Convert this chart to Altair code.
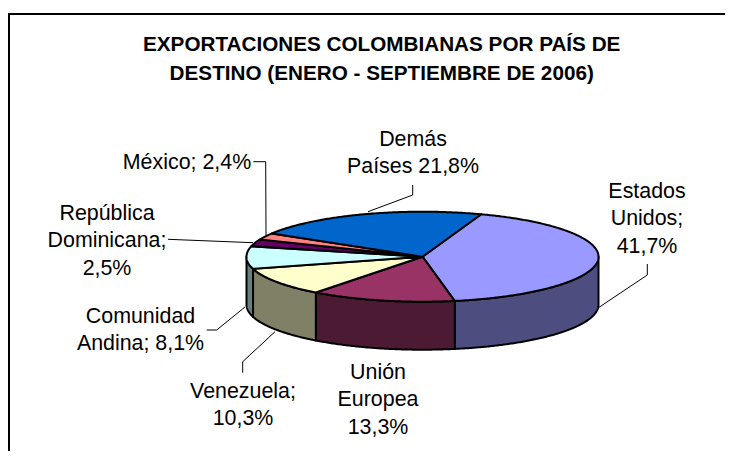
import math
import altair as alt

# --- data
paises = ["Estados Unidos", "Unión Europea", "Venezuela", "Comunidad Andina",
          "República Dominicana", "México", "Demás Países"]
porcentajes = [41.7, 13.3, 10.3, 8.1, 2.5, 2.4, 21.8]
etiquetas = ["Estados\nUnidos;\n41,7%", "Unión\nEuropea\n13,3%", "Venezuela;\n10,3%",
             "Comunidad\nAndina; 8,1%", "República\nDominicana;\n2,5%", "México; 2,4%",
             "Demás\nPaíses 21,8%"]
colores_tapa = ["#9999FF", "#993366", "#FFFFCC", "#CCFFFF", "#660066", "#FF8080", "#0066CC"]
colores_lado = ["#4D4D80", "#4D1A33", "#808066", "#668080", "#330033", "#804040", "#003366"]
titulo = ["EXPORTACIONES COLOMBIANAS POR PAÍS DE", "DESTINO (ENERO - SEPTIEMBRE DE 2006)"]

# --- layout (page pixels minus the 8px margin)
M = 8
CX, CY, A, B, H = 422.5 - M, 256.7 - M, 176, 45, 48
INICIO = 19.5
LAB_X = [647, 378, 243, 140.5, 107, 187, 413]
LAB_Y = [198, 379, 397.5, 322.7, 220, 169.3, 146]
LIDERES = [
    [(647.3, 264), (647.3, 275), (598, 308)],
    [(242.7, 372.7), (242.7, 361.7), (275, 331.7)],
    [(206.7, 330), (216.7, 330), (245, 307)],
    [(168, 239.3), (253, 242.7)],
    [(253.3, 161.7), (265.7, 161.7), (266, 235)],
    [(412.7, 185), (412.7, 195), (368, 211.7)],
]
W, HT = 717, 443


def punto(ang, dy=0.0):
    r = math.radians(ang)
    return [CX + A * math.sin(r), CY - B * math.cos(r) + dy]


total = sum(porcentajes)
tapas, lados = [], []
ini = INICIO
for pais, p in zip(paises, porcentajes):
    fin = ini + p / total * 360
    n = max(2, int(fin - ini) * 2)
    arco = [ini + (fin - ini) * i / n for i in range(n + 1)]
    anillo = [[CX, CY]] + [punto(t) for t in arco] + [[CX, CY]]
    tapas.append({"type": "Feature", "properties": {"pais": pais},
                  "geometry": {"type": "Polygon", "coordinates": [anillo]}})
    # visible wall: the part of the arc on the front half (90..270 deg from the top)
    a0, a1 = max(ini, 90), min(fin, 270)
    if a1 > a0:
        m = max(2, int(a1 - a0) * 2)
        frente = [a0 + (a1 - a0) * i / m for i in range(m + 1)]
        muro = [punto(t) for t in frente] + [punto(t, H) for t in reversed(frente)]
        muro.append(muro[0])
        lados.append({"type": "Feature", "properties": {"pais": pais},
                      "geometry": {"type": "Polygon", "coordinates": [muro]}})
    ini = fin

lineas = [{"type": "Feature", "properties": {},
           "geometry": {"type": "LineString",
                        "coordinates": [[x - M, y - M] for x, y in l]}} for l in LIDERES]

PROY = dict(type="identity", scale=1, translate=[0, 0])


def capa(features, dominio, rango):
    return alt.Chart(alt.Data(values=features)).mark_geoshape(
        stroke="black", strokeWidth=2, strokeJoin="round"
    ).encode(
        color=alt.Color("properties.pais:N", legend=None,
                        scale=alt.Scale(domain=dominio, range=rango))
    ).project(**PROY)


muros = capa(lados, paises, colores_lado)
tapa = capa(tapas, paises, colores_tapa)
lider = alt.Chart(alt.Data(values=lineas)).mark_geoshape(
    filled=False, stroke="black", strokeWidth=1
).project(**PROY)

marco_h = alt.Chart(alt.Data(values=[{}])).mark_rule(color="black", strokeWidth=2).encode(
    x=alt.value(0), x2=alt.value(W), y=alt.value(14 - M))
marco_v = alt.Chart(alt.Data(values=[{}])).mark_rule(color="black", strokeWidth=2).encode(
    x=alt.value(9 - M), y=alt.value(13 - M), y2=alt.value(HT))

filas = [{"t": t, "x": x - M, "y": y - M} for t, x, y in zip(etiquetas, LAB_X, LAB_Y)]
textos = alt.Chart(alt.Data(values=filas)).mark_text(
    font="Liberation Sans", fontSize=21.4, color="black", align="center",
    baseline="alphabetic", lineBreak="\n", lineHeight=27.3
).encode(
    x=alt.X("x:Q", scale=None), y=alt.Y("y:Q", scale=None), text="t:N"
)

chart = alt.layer(marco_h, marco_v, lider, muros, tapa, textos).resolve_scale(
    color="independent"
).properties(
    width=W, height=HT, padding=0,
    autosize=alt.AutoSizeParams(type="none"),
    title=alt.TitleParams(
        text=titulo, font="Liberation Sans", fontSize=20.7, fontWeight="bold",
        color="black", anchor="start", align="center", baseline="alphabetic",
        dx=381.7 - M, dy=92.7, lineHeight=28.6, offset=0, frame="group"
    ),
).configure_view(stroke=None)

chart.save("out.html", embed_options={"renderer": "svg", "actions": False})
